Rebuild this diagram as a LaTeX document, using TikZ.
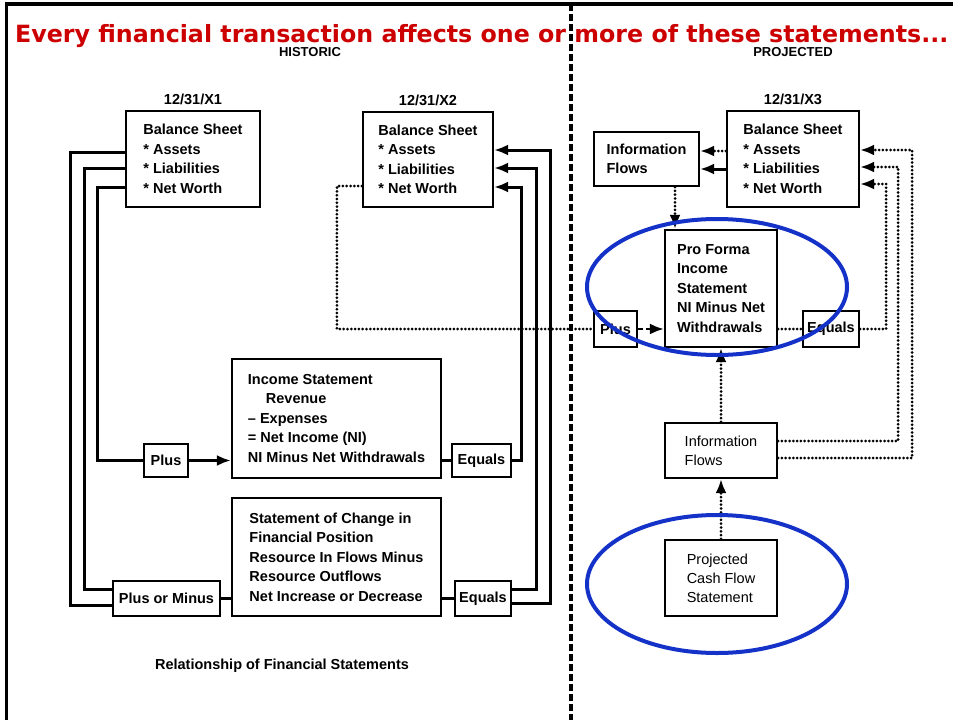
\documentclass[tikz,border=0pt]{standalone}
\usepackage{fontspec}
\setmainfont{Liberation Sans}
\newfontfamily\titlefont{DejaVu Sans}
\usepackage{graphicx}
\usetikzlibrary{arrows.meta,calc}
\definecolor{titlered}{RGB}{204,0,0}
\definecolor{ringblue}{RGB}{20,50,200}
\begin{document}
\begin{tikzpicture}[x=1pt,y=-1pt,
  box/.style={draw, line width=2.2pt, align=left, inner sep=0pt, font=\bfseries\fontsize{14.5}{19.5}\selectfont},
  plainbox/.style={box, font=\fontsize{14.5}{19}\selectfont},
  conn/.style={line width=3pt},
  arr/.style={-{Latex[length=14pt,width=11pt]}},
  dots/.style={line width=3pt, dash pattern=on 0pt off 3.8pt, line cap=round},
  dashline/.style={line width=2.5pt, dash pattern=on 5pt off 3pt},
  lbl/.style={font=\bfseries\fontsize{14.5}{18}\selectfont, inner sep=0pt},
  smalllbl/.style={font=\bfseries\fontsize{13}{16}\selectfont, inner sep=0pt},
  ring/.style={draw=ringblue, line width=4pt}
]
\useasboundingbox (0,0) rectangle (953,720);

% title
\node[anchor=base west, inner sep=0pt, text=titlered] (title) at (15,42)
  {\resizebox{933pt}{!}{\titlefont\bfseries Every financial transaction affects one or more of these statements...}};

% frame and divider
\draw[line width=3.5pt] (953,4) -- (6.5,4) -- (6.5,720);
\draw[line width=4.5pt, dash pattern=on 7pt off 3pt] (571,4) -- (571,720);

\node[smalllbl, anchor=base] (hist) at (310,56) {HISTORIC};
\node[smalllbl, anchor=base] (proj) at (793,56) {PROJECTED};

% boxes - historic
\node[box, minimum width=134pt, minimum height=96pt] (bs1) at (193,159) {Balance Sheet\\* Assets\\* Liabilities\\* Net Worth};
\node[box, minimum width=130pt, minimum height=95pt] (bs2) at (428,159.5) {Balance Sheet\\* Assets\\* Liabilities\\* Net Worth};
\node[box, minimum width=209pt, minimum height=119pt] (is) at (336.5,418.5) {Income Statement\\\hspace*{18pt}Revenue\\-- Expenses\\= Net Income (NI)\\NI Minus Net Withdrawals};
\node[box, minimum width=209pt, minimum height=118pt] (scfp) at (336.5,557) {Statement of Change in\\Financial Position\\Resource In Flows Minus\\Resource Outflows\\Net Increase or Decrease};
\node[box, minimum width=44pt, minimum height=33pt] (plusl) at (166,460.5) {Plus};
\node[box, minimum width=107pt, minimum height=35pt] (pom) at (166.5,598.5) {Plus or Minus};
\node[box, minimum width=59pt, minimum height=33pt] (eqis) at (481.5,460.5) {Equals};
\node[box, minimum width=56pt, minimum height=35pt] (eqsc) at (483,598.5) {Equals};

\node[lbl, anchor=base] (d1) at ([yshift=5pt]bs1.north) {12/31/X1};
\node[lbl, anchor=base] (d2) at ([yshift=5pt]bs2.north) {12/31/X2};

% boxes - projected
\node[box, minimum width=132pt, minimum height=96pt] (bs3) at (793,159) {Balance Sheet\\* Assets\\* Liabilities\\* Net Worth};
\node[box, minimum width=105pt, minimum height=54pt] (if1) at (646.5,159) {Information\\Flows};
\node[box, minimum width=112pt, minimum height=117pt] (pf) at (721,288.5) {Pro Forma\\Income\\Statement\\NI Minus Net\\Withdrawals};
\node[box, minimum width=43pt, minimum height=36pt] (plusr) at (615.5,329) {Plus};
\node[box, minimum width=56pt, minimum height=36pt] (eqr) at (831,329) {Equals};
\node[plainbox, minimum width=112pt, minimum height=55pt] (if2) at (721,450.5) {Information\\Flows};
\node[plainbox, minimum width=112pt, minimum height=76pt] (pcf) at (721,578) {Projected\\Cash Flow\\Statement};
\node[lbl, anchor=base] (d3) at ([yshift=5pt]bs3.north) {12/31/X3};

\node[lbl, anchor=base] (cap) at (282,669) {Relationship of Financial Statements};

% historic connectors
\draw[conn] ([yshift=7pt]bs1.west) -- ++(-54,0) |- ([yshift=-6.5pt]pom.west);
\draw[conn] ([yshift=-9pt]bs1.west) -- ++(-40,0) |- ([yshift=9.5pt]pom.west);
\draw[conn] ([yshift=-28pt]bs1.west) -- ++(-27,0) |- (plusl.west);
\draw[conn,arr] (plusl.east) -- (plusl.east -| is.west);
\draw[conn] (pom.east) -- (pom.east -| scfp.west);
\draw[conn] (is.east |- eqis.west) -- (eqis.west);
\draw[conn] (scfp.east |- eqsc.west) -- (eqsc.west);
\draw[conn,arr] (eqis.east) -- ++(9,0) |- ([yshift=-27.5pt]bs2.east);
\draw[conn,arr] ([yshift=9.5pt]eqsc.east) -- ++(24,0) |- ([yshift=-8.5pt]bs2.east);
\draw[conn,arr] ([yshift=-4.5pt]eqsc.east) -- ++(38,0) |- ([yshift=9.5pt]bs2.east);
\draw[dots] ([yshift=-26.5pt]bs2.west) -- ++(-25,0) |- (plusr.west);

% projected connectors
\draw[dashline,arr] (plusr.east) -- (plusr.east -| pf.west);
\draw[dots] (pf.east |- eqr.west) -- (eqr.west);
\draw[dots,arr] (eqr.east) -- ++(26,0) |- ([yshift=-25pt]bs3.east);
\draw[dots,arr] ([yshift=9.5pt]if2.east) -- ++(120,0) |- ([yshift=-8pt]bs3.east);
\draw[dots,arr] ([yshift=-7.5pt]if2.east) -- ++(134,0) |- ([yshift=9pt]bs3.east);
\draw[dots,arr] ([yshift=8pt]bs3.west) -- ([yshift=8pt]if1.east);
\draw[conn,arr] ([yshift=-10pt]bs3.west) -- ([yshift=-10pt]if1.east);
\draw[dots,arr] ([xshift=28.5pt]if1.south) -- ([xshift=-46pt]pf.north);
\draw[dots,arr] (if2.north) -- (pf.south);
\draw[dots,arr] (pcf.north) -- (if2.south);

% highlight rings
\draw[ring] (717,287) ellipse [x radius=130, y radius=68];
\draw[ring] (717,584) ellipse [x radius=130, y radius=69];
\end{tikzpicture}
\end{document}
